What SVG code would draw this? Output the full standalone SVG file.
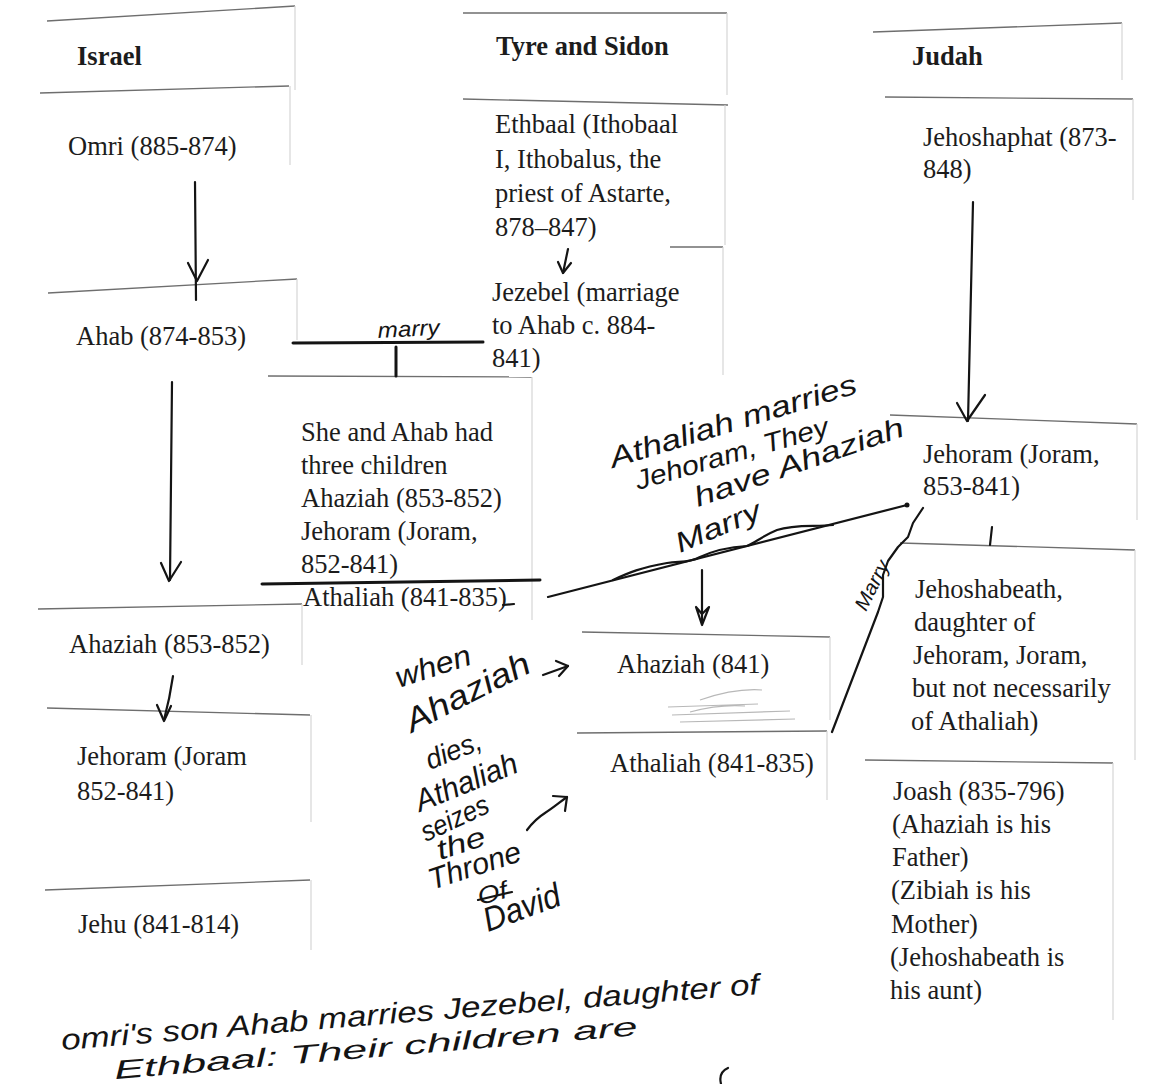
<svg xmlns="http://www.w3.org/2000/svg" width="1151" height="1084" viewBox="0 0 1151 1084">
<style>
  .t { font-family: "Liberation Serif", "Times New Roman", serif; font-size: 26.5px; fill: #1c1c1c; }
  .h { font-family: "Liberation Serif", "Times New Roman", serif; font-size: 26.5px; font-weight: bold; fill: #1c1c1c; }
  .cell { fill: none; stroke: #6e6e6e; stroke-width: 1.3; }
  .edge { fill: none; stroke: #d6d6d6; stroke-width: 1.2; }
  .ink { fill: none; stroke: #141414; stroke-width: 2.2; stroke-linecap: round; stroke-linejoin: round; }
  .thick { fill: none; stroke: #141414; stroke-width: 3; stroke-linecap: round; }
  .pencil { fill: none; stroke: #b8b8b8; stroke-width: 1.2; }
  .hand { font-family: "Liberation Sans", "DejaVu Sans", sans-serif; font-style: italic; fill: #141414; }
</style>
<rect x="0" y="0" width="1151" height="1084" fill="#ffffff"/>

<!-- Israel column -->
<g id="israel-header">
  <path class="cell" d="M47,21 L295,6"/><path class="edge" d="M295,6 V90"/>
  <text class="h" x="77" y="65">Israel</text>
</g>
<g id="omri">
  <path class="cell" d="M40,93 L289,86"/><path class="edge" d="M290,86 V165"/>
  <text class="t" x="68" y="155">Omri (885-874)</text>
</g>
<g id="ahab">
  <path class="cell" d="M48,293 L297,279"/><path class="edge" d="M297,279 V340"/>
  <text class="t" x="76" y="345">Ahab (874-853)</text>
</g>
<g id="ahaziah-israel">
  <path class="cell" d="M38,609 L302,604"/><path class="edge" d="M302,604 V665"/>
  <text class="t" x="69" y="653">Ahaziah (853-852)</text>
</g>
<g id="jehoram-israel">
  <path class="cell" d="M47,708 L310,715"/><path class="edge" d="M311,715 V822"/>
  <text class="t" x="77" y="765">Jehoram (Joram</text>
  <text class="t" x="77" y="800">852-841)</text>
</g>
<g id="jehu">
  <path class="cell" d="M45,890 L310,880"/><path class="edge" d="M311,880 V950"/>
  <text class="t" x="78" y="933">Jehu (841-814)</text>
</g>

<!-- Tyre and Sidon column -->
<g id="tyre-header">
  <path class="cell" d="M463,13 L727,13"/><path class="edge" d="M727,13 V95"/>
  <text class="h" x="496" y="55">Tyre and Sidon</text>
</g>
<g id="ethbaal">
  <path class="cell" d="M463,99 L728,105"/><path class="edge" d="M725,105 V245"/>
  <text class="t" x="495" y="133">Ethbaal (Ithobaal</text>
  <text class="t" x="495" y="168">I, Ithobalus, the</text>
  <text class="t" x="495" y="202">priest of Astarte,</text>
  <text class="t" x="495" y="236">878–847)</text>
</g>
<g id="jezebel">
  <path class="cell" d="M670,247 L723,247"/><path class="edge" d="M723,247 V375"/>
  <text class="t" x="492" y="301">Jezebel (marriage</text>
  <text class="t" x="492" y="334">to Ahab c. 884-</text>
  <text class="t" x="492" y="367">841)</text>
</g>
<g id="children">
  <path class="cell" d="M268,376 L532,377"/><path class="edge" d="M532,377 V620"/>
  <text class="t" x="301" y="441">She and Ahab had</text>
  <text class="t" x="301" y="474">three children</text>
  <text class="t" x="301" y="507">Ahaziah (853-852)</text>
  <text class="t" x="301" y="540">Jehoram (Joram,</text>
  <text class="t" x="301" y="573">852-841)</text>
  <text class="t" x="303" y="606">Athaliah (841-835)</text>
</g>
<g id="ahaziah-judah">
  <path class="cell" d="M582,632 L830,637"/><path class="edge" d="M830,637 V720"/>
  <text class="t" x="617" y="673">Ahaziah (841)</text>
  <path class="pencil" d="M668,707 L758,704 M672,715 L790,711 M680,722 L795,719 M700,700 Q735,688 762,690 M690,712 Q720,704 745,706"/>
</g>
<g id="athaliah-judah">
  <path class="cell" d="M577,733 L827,731"/><path class="edge" d="M827,731 V800"/>
  <text class="t" x="610" y="772">Athaliah (841-835)</text>
</g>

<!-- Judah column -->
<g id="judah-header">
  <path class="cell" d="M873,32 L1122,23"/><path class="edge" d="M1122,23 V80"/>
  <text class="h" x="912" y="65">Judah</text>
</g>
<g id="jehoshaphat">
  <path class="cell" d="M885,97 L1133,99"/><path class="edge" d="M1133,99 V200"/>
  <text class="t" x="923" y="146">Jehoshaphat (873-</text>
  <text class="t" x="923" y="178">848)</text>
</g>
<g id="jehoram-judah">
  <path class="cell" d="M890,415 L1137,424"/><path class="edge" d="M1137,424 V520"/>
  <text class="t" x="923" y="463">Jehoram (Joram,</text>
  <text class="t" x="923" y="495">853-841)</text>
</g>
<g id="jehoshabeath">
  <path class="cell" d="M900,543 L1135,550"/><path class="edge" d="M1135,550 V760"/>
  <text class="t" x="915" y="598">Jehoshabeath,</text>
  <text class="t" x="914" y="631">daughter of</text>
  <text class="t" x="913" y="664">Jehoram, Joram,</text>
  <text class="t" x="912" y="697">but not necessarily</text>
  <text class="t" x="911" y="730">of Athaliah)</text>
</g>
<g id="joash">
  <path class="cell" d="M865,760 L1113,763"/><path class="edge" d="M1113,763 V1020"/>
  <text class="t" x="893" y="800">Joash (835-796)</text>
  <text class="t" x="892" y="833">(Ahaziah is his</text>
  <text class="t" x="892" y="866">Father)</text>
  <text class="t" x="891" y="899">(Zibiah is his</text>
  <text class="t" x="891" y="933">Mother)</text>
  <text class="t" x="890" y="966">(Jehoshabeath is</text>
  <text class="t" x="890" y="999">his aunt)</text>
</g>

<!-- Connectors (hand drawn) -->
<g id="connectors">
  <path class="ink" d="M195,182 L196,300"/>
  <path class="ink" d="M188,263 L197,281 L208,260"/>
  <path class="ink" d="M172,382 L170,580"/>
  <path class="ink" d="M161,563 L169,581 L181,562"/>
  <path class="ink" d="M173,676 C171,690 168,705 164,720"/>
  <path class="ink" d="M157,705 L164,721 L171,706"/>
  <path class="ink" d="M568,249 L563,273"/>
  <path class="ink" d="M558,262 L563,273 L571,263"/>
  <path class="ink" d="M973,202 L968,421"/>
  <path class="ink" d="M957,403 L967,421 L985,395"/>
  <path class="ink" d="M992,527 L990,545"/>
  <path class="thick" d="M293,343 L483,342"/>
  <path class="thick" d="M396,347 L396,376"/>
  <path class="thick" d="M262,584 L540,580"/>
  <path class="ink" d="M503,605 L514,604"/>
  <path class="ink" d="M548,597 L907,505"/>
  <circle cx="907" cy="505" r="2.5" fill="#141414"/>
  <path class="ink" stroke-width="1.6" d="M613,580 C630,572 640,568 667,563 C680,561 690,563 700,557 C715,550 730,547 747,546 C755,543 762,536 777,530 C795,524 815,527 833,525"/>
  <path class="ink" d="M702,570 L702,622"/>
  <path class="ink" fill="#141414" d="M696,607 L702,625 L709,607 L702,614 Z"/>
  <path class="ink" d="M923,508 L913,523 L908,537 L898,547 L888,561 L883,575 L883,597 L878,612 L832,732"/>
  <path class="ink" d="M543,675 L568,666"/>
  <path class="ink" d="M556,661 L568,666 L559,676"/>
  <path class="ink" d="M527,830 C533,822 537,818 545,813 C553,808 560,802 567,797"/>
  <path class="ink" d="M553,796 L567,797 L565,811"/>
  <path class="ink" d="M728,1068 C719,1072 720,1080 721,1084"/>
</g>

<!-- Handwritten notes -->
<g id="notes">
  <text class="hand" font-size="22" x="378" y="338" textLength="62" lengthAdjust="spacingAndGlyphs" transform="rotate(-3 378 338)">marry</text>
  <text class="hand" font-size="29" x="613" y="468" textLength="257" lengthAdjust="spacingAndGlyphs" transform="rotate(-17 613 468)">Athaliah marries</text>
  <text class="hand" font-size="27" x="638" y="490" textLength="200" lengthAdjust="spacingAndGlyphs" transform="rotate(-16 638 490)">Jehoram, They</text>
  <text class="hand" font-size="28" x="698" y="507" textLength="220" lengthAdjust="spacingAndGlyphs" transform="rotate(-19 698 507)">have Ahaziah</text>
  <text class="hand" font-size="28" x="680" y="553" textLength="90" lengthAdjust="spacingAndGlyphs" transform="rotate(-23 680 553)">Marry</text>
  <text class="hand" font-size="20" x="866" y="612" textLength="53" lengthAdjust="spacingAndGlyphs" transform="rotate(-63 866 612)">Marry</text>
  <text class="hand" font-size="30" x="399" y="688" textLength="78" lengthAdjust="spacingAndGlyphs" transform="rotate(-18 399 688)">when</text>
  <text class="hand" font-size="33" x="412" y="733" textLength="136" lengthAdjust="spacingAndGlyphs" transform="rotate(-27 412 733)">Ahaziah</text>
  <text class="hand" font-size="28" x="430" y="770" textLength="58" lengthAdjust="spacingAndGlyphs" transform="rotate(-22 430 770)">dies,</text>
  <text class="hand" font-size="31" x="420" y="812" textLength="108" lengthAdjust="spacingAndGlyphs" transform="rotate(-22 420 812)">Athaliah</text>
  <text class="hand" font-size="28" x="426" y="842" textLength="72" lengthAdjust="spacingAndGlyphs" transform="rotate(-25 426 842)">seizes</text>
  <text class="hand" font-size="28" x="440" y="860" textLength="50" lengthAdjust="spacingAndGlyphs" transform="rotate(-18 440 860)">the</text>
  <text class="hand" font-size="30" x="432" y="890" textLength="96" lengthAdjust="spacingAndGlyphs" transform="rotate(-18 432 890)">Throne</text>
  <text class="hand" font-size="24" x="480" y="905" textLength="30" lengthAdjust="spacingAndGlyphs" transform="rotate(-15 480 905)">Of</text>
  <path class="ink" d="M478,900 L512,892"/>
  <text class="hand" font-size="34" x="488" y="932" textLength="80" lengthAdjust="spacingAndGlyphs" transform="rotate(-20 488 932)">David</text>
  <text class="hand" font-size="29" x="62" y="1050" textLength="700" lengthAdjust="spacingAndGlyphs" transform="rotate(-4.6 62 1050)">omri's son Ahab marries Jezebel, daughter of</text>
  <text class="hand" font-size="26" x="115" y="1079" textLength="525" lengthAdjust="spacingAndGlyphs" transform="rotate(-4.8 115 1079)">Ethbaal: Their children are</text>
</g>
</svg>
